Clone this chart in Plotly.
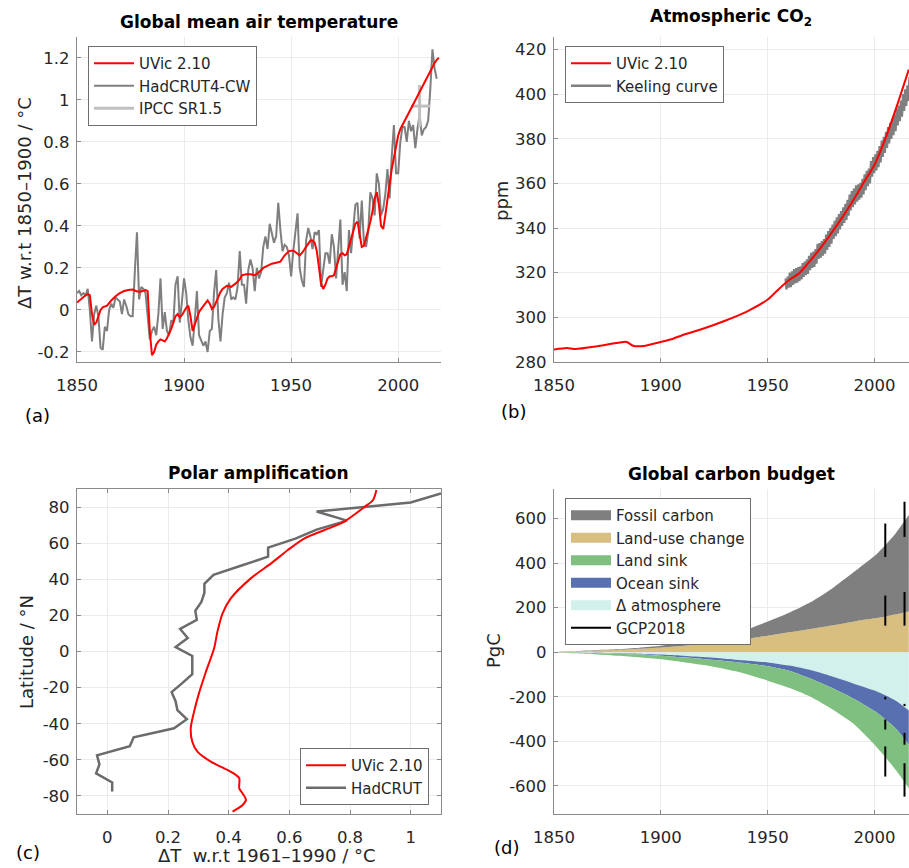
import plotly.graph_objects as go

# ---------------- (a) Global mean air temperature ----------------
had_years = list(range(1850, 2019))
had_temp = [
    0.08, 0.09, 0.07, 0.08, 0.07, 0.10, 0.00, -0.15, -0.02, 0.02,
    -0.03, -0.18, -0.19, -0.08, -0.10, 0.00, 0.03, 0.01, 0.06, 0.05,
    0.04, -0.02, 0.05, 0.02, -0.02, -0.03, -0.03, 0.18, 0.37, 0.05,
    0.11, 0.10, 0.08, -0.03, -0.14, -0.10, -0.08, -0.12, -0.02, 0.15,
    -0.09, -0.01, -0.10, -0.12, -0.05, -0.06, 0.12, 0.16, -0.06, 0.04,
    0.15, 0.08, -0.05, -0.13, -0.17, -0.05, 0.09, -0.12, -0.15, -0.17,
    -0.15, -0.20, -0.10, -0.09, 0.08, 0.19, -0.04, -0.15, -0.02, 0.06,
    0.08, 0.13, 0.05, 0.06, 0.05, 0.11, 0.28, 0.12, 0.12, 0.03,
    0.19, 0.24, 0.20, 0.09, 0.20, 0.15, 0.18, 0.30, 0.35, 0.29,
    0.41, 0.37, 0.32, 0.35, 0.51, 0.38, 0.28, 0.31, 0.30, 0.26,
    0.16, 0.28, 0.36, 0.46, 0.20, 0.14, 0.11, 0.33, 0.39, 0.35,
    0.29, 0.37, 0.36, 0.38, 0.11, 0.19, 0.27, 0.27, 0.22, 0.36,
    0.30, 0.15, 0.28, 0.43, 0.12, 0.18, 0.09, 0.38, 0.27, 0.39,
    0.50, 0.51, 0.34, 0.52, 0.32, 0.30, 0.37, 0.56, 0.53, 0.45,
    0.65, 0.60, 0.45, 0.48, 0.55, 0.67, 0.53, 0.73, 0.88, 0.65,
    0.65, 0.80, 0.87, 0.87, 0.80, 0.90, 0.85, 0.88, 0.77, 0.86,
    0.93, 0.83, 0.86, 0.87, 0.90, 1.05, 1.24, 1.15, 1.10,
]

uvic_t_years = [
    1850, 1852, 1854, 1855, 1856, 1857, 1858, 1859, 1860, 1861, 1862, 1864,
    1866, 1868, 1870, 1872, 1874, 1876, 1878, 1880, 1882, 1883, 1884, 1885,
    1886, 1887, 1888, 1889, 1890, 1891, 1892, 1893, 1894, 1895, 1896, 1897,
    1898, 1899, 1900, 1901, 1902, 1903, 1904, 1905, 1906, 1907, 1908, 1909,
    1910, 1911, 1912, 1913, 1914, 1915, 1916, 1917, 1918, 1919, 1920, 1922,
    1924, 1926, 1927, 1929, 1931, 1933, 1935, 1937, 1939, 1941, 1943, 1945,
    1947, 1949, 1951, 1953, 1954, 1955, 1957, 1959, 1960, 1961, 1962, 1963,
    1964, 1965, 1966, 1967, 1968, 1969, 1970, 1971, 1972, 1973, 1974, 1975,
    1976, 1977, 1978, 1979, 1980, 1981, 1982, 1983, 1984, 1985, 1986, 1987,
    1988, 1989, 1990, 1991, 1992, 1993, 1994, 1995, 1996, 1997, 1998, 1999,
    2000, 2001, 2002, 2003, 2004, 2005, 2006, 2007, 2008, 2009, 2010, 2011,
    2012, 2013, 2014, 2015, 2016, 2017, 2018, 2019,
]
uvic_t = [
    0.035, 0.055, 0.07, 0.075, 0.07, -0.02, -0.07, -0.06, -0.03, 0.0, 0.012, 0.02,
    0.045, 0.065, 0.08, 0.09, 0.095, 0.097, 0.088, 0.088, 0.095, 0.09, -0.1, -0.215,
    -0.2, -0.165, -0.15, -0.14, -0.145, -0.15, -0.135, -0.115, -0.09, -0.06, -0.03, -0.02,
    -0.035, -0.025, -0.005, 0.01, 0.02, -0.03, -0.1, -0.07, -0.03, -0.01, 0.005, 0.02,
    0.035, 0.045, 0.03, 0.005, 0.015, 0.04, 0.06, 0.085, 0.1, 0.11, 0.115, 0.11,
    0.125, 0.145, 0.165, 0.17, 0.17, 0.165, 0.18, 0.2, 0.21, 0.22, 0.225, 0.23,
    0.26, 0.28, 0.283, 0.27, 0.26, 0.27, 0.3, 0.33, 0.33, 0.32, 0.28, 0.2,
    0.125, 0.1, 0.12, 0.15, 0.16, 0.16, 0.165, 0.2, 0.23, 0.265, 0.27, 0.26,
    0.265, 0.3, 0.34, 0.38, 0.41, 0.42, 0.36, 0.3, 0.305, 0.34, 0.38, 0.42,
    0.47, 0.53, 0.56, 0.5, 0.4, 0.385, 0.45, 0.54, 0.6, 0.67, 0.73, 0.79,
    0.83, 0.86, 0.88, 0.9, 0.92, 0.94, 0.96, 0.98, 1.0, 1.02, 1.04, 1.06,
    1.08, 1.1, 1.12, 1.14, 1.16, 1.175, 1.19, 1.2,
]

# IPCC SR1.5 assessed warming: period span, central year, mean and likely range
sr15_period = [2006, 2015]
sr15_year = [2010]
sr15_mean = [0.97]
sr15_range = [0.87, 1.07]

# ---------------- (b) Atmospheric CO2 ----------------
uvic_co2_years = [1850, 1856, 1860, 1870, 1880, 1884, 1887, 1892, 1900, 1905, 1910,
                  1920, 1930, 1940, 1950, 1955, 1960, 1965, 1970, 1975, 1980, 1985,
                  1990, 1995, 2000, 2005, 2010, 2016]
uvic_co2 = [285.6, 286.3, 285.8, 287.0, 288.6, 289.0, 287.3, 287.2, 289.0, 290.2, 292.0,
            295.0, 298.5, 302.5, 308.0, 312.5, 316.7, 320.0, 325.5, 331.5, 338.0, 345.0,
            352.5, 360.5, 368.5, 380.0, 393.5, 411.0]

keeling_years = list(range(1958, 2019))
keeling_peak = [
    317.5, 318.3, 320.0, 320.6, 321.6, 322.1, 322.5, 322.9, 324.3, 325.0,
    326.0, 327.6, 328.9, 329.5, 330.6, 332.9, 333.3, 334.2, 335.1, 337.1,
    338.7, 340.1, 341.6, 343.3, 344.8, 346.3, 347.6, 349.3, 350.9, 352.6,
    355.0, 356.6, 357.7, 359.1, 359.6, 360.3, 362.1, 364.1, 365.7, 366.7,
    370.0, 371.8, 373.0, 374.6, 376.7, 379.2, 380.9, 383.1, 385.2, 387.1,
    389.0, 390.7, 393.3, 394.9, 397.1, 400.0, 402.2, 404.0, 407.6, 409.7,
    411.2,
]
keeling_trough = [
    312.5, 313.3, 313.5, 314.5, 315.2, 315.6, 316.2, 317.0, 318.1, 318.9,
    319.5, 321.1, 322.1, 322.6, 324.0, 326.2, 326.8, 327.6, 328.5, 330.2,
    331.6, 333.0, 335.1, 336.4, 337.6, 339.4, 341.0, 342.3, 343.6, 345.5,
    347.9, 349.4, 350.6, 351.8, 352.7, 353.6, 355.1, 357.0, 358.8, 360.0,
    363.0, 364.6, 365.8, 367.3, 369.4, 371.9, 373.7, 375.9, 377.9, 379.9,
    381.6, 383.4, 386.0, 387.9, 389.9, 392.5, 394.7, 397.0, 400.7, 403.3,
    405.4,
]

# ---------------- (c) Polar amplification ----------------
uvic_lat = [89.4, 83.9, 80.2, 71.5, 67.3, 62.7, 56.2, 48.8, 40.5, 29.4, 21.1, 11.0,
            1.8, -11.2, -23.2, -33.3, -42.5, -50.0, -55.5, -61.0, -65.6, -68.4,
            -70.2, -75.8, -78.6, -82.2, -85.0, -88.7]
uvic_dt = [0.887, 0.876, 0.849, 0.777, 0.716, 0.65, 0.595, 0.54, 0.473, 0.407, 0.38, 0.363,
           0.352, 0.325, 0.302, 0.286, 0.275, 0.28, 0.297, 0.341, 0.396, 0.424,
           0.435, 0.435, 0.446, 0.457, 0.446, 0.413]

had_lat = [87.5, 82.5, 77.5, 72.5, 67.5, 62.5, 57.5, 52.5, 47.5, 42.5, 37.5, 32.5,
           27.5, 22.5, 17.5, 12.5, 7.5, 2.5, -2.5, -7.5, -12.5, -17.5, -22.5, -27.5,
           -32.5, -37.5, -42.5, -47.5, -52.5, -57.5, -62.5, -67.5, -72.5, -77.5]
had_dt = [1.10, 1.0, 0.69, 0.79, 0.69, 0.62, 0.53, 0.53, 0.44, 0.35, 0.32, 0.32,
          0.31, 0.29, 0.295, 0.24, 0.265, 0.225, 0.28, 0.28, 0.28, 0.247, 0.212, 0.225,
          0.231, 0.262, 0.22, 0.087, 0.074, -0.034, -0.026, -0.037, 0.016, 0.016]

# ---------------- (d) Global carbon budget (cumulative PgC since 1850) ----------------
budget_years = [1850, 1860, 1870, 1880, 1890, 1900, 1910, 1920, 1930, 1940, 1950,
                1960, 1970, 1980, 1990, 2000, 2005, 2010, 2016]
land_use = [0, 4, 8, 10, 15, 21, 28, 37, 48, 60, 74, 89, 104, 120, 137, 152, 160, 170, 183]
fossil = [0, 0.5, 1.5, 3, 5, 8, 14, 20, 29, 41, 64, 88, 120, 165, 220, 280, 320, 365, 432]
d_atmosphere = [0, -1, -3, -5, -7, -11, -16, -22, -29, -37, -46, -60, -80, -108, -140,
                -172, -193, -218, -262]
ocean_sink = [0, -1, -2, -2, -4, -5, -7, -9, -11, -13, -17, -23, -38, -52, -68, -92,
              -108, -125, -153]
land_sink = [0, -3, -5, -9, -12, -16, -21, -27, -36, -48, -65, -77, -82, -95, -112,
             -151, -169, -187, -195]

# GCP2018 estimates (low / high) placed on the stacked budget
gcp_years = [2005, 2014]
gcp_low = {
    "fossil": [427, 517], "luc": [119, 119], "atm": [-212, -242],
    "ocean": [-347, -415], "land": [-558, -648],
}
gcp_high = {
    "fossil": [577, 675], "luc": [254, 270], "atm": [-200, -232],
    "ocean": [-302, -362], "land": [-423, -498],
}

# ---------------- styling ----------------
FONT = "DejaVu Sans"
TXT = "#262626"
AXC = "#8a8a8a"
GRID = "#ebebeb"
RED = "#ff0000"
GRAY = "#7f7f7f"
W, H = 909, 868


def fx(p):
    return p / W


def fy(p):
    return 1 - p / H


fig = go.Figure()

# (a) observations first, model line on top
fig.add_trace(go.Scatter(x=had_years, y=had_temp, mode="lines", name="HadCRUT4-CW",
                         line=dict(color=GRAY, width=2), xaxis="x", yaxis="y",
                         legend="legend", legendrank=2))
fig.add_trace(go.Scatter(
    x=[sr15_period[0], sr15_period[1], None, sr15_year[0], sr15_year[0]],
    y=[sr15_mean[0], sr15_mean[0], None, sr15_range[0], sr15_range[1]],
    mode="lines", name="IPCC SR1.5", line=dict(color="#c0c0c0", width=3),
    xaxis="x", yaxis="y", legend="legend", legendrank=3))
fig.add_trace(go.Scatter(x=uvic_t_years, y=uvic_t, mode="lines", name="UVic 2.10",
                         line=dict(color=RED, width=2), xaxis="x", yaxis="y",
                         legend="legend", legendrank=1))

# (b) Keeling curve drawn through seasonal maxima and minima
k_x, k_y = [], []
for yr, pk, tr in zip(keeling_years, keeling_peak, keeling_trough):
    k_x += [yr + 0.37, yr + 0.78]
    k_y += [pk, tr]
fig.add_trace(go.Scatter(x=k_x, y=k_y, mode="lines", name="Keeling curve",
                         line=dict(color=GRAY, width=2.4), xaxis="x2", yaxis="y2",
                         legend="legend2", legendrank=2))
fig.add_trace(go.Scatter(x=uvic_co2_years, y=uvic_co2, mode="lines", name="UVic 2.10",
                         line=dict(color=RED, width=2, shape="spline", smoothing=0.6),
                         xaxis="x2", yaxis="y2", legend="legend2", legendrank=1))

# (c)
fig.add_trace(go.Scatter(x=had_dt, y=had_lat, mode="lines", name="HadCRUT",
                         line=dict(color="#6b6b6b", width=2.5), xaxis="x3", yaxis="y3",
                         legend="legend3", legendrank=2))
fig.add_trace(go.Scatter(x=uvic_dt, y=uvic_lat, mode="lines", name="UVic 2.10",
                         line=dict(color=RED, width=2, shape="spline", smoothing=0.8),
                         xaxis="x3", yaxis="y3", legend="legend3", legendrank=1))

# (d) stacked budget
fills = {
    "Fossil carbon": "#7f7f7f",
    "Land-use change": "#d9bf7f",
    "Land sink": "#7fbf7f",
    "Ocean sink": "#5870b0",
    "\u0394 atmosphere": "#d2f1ec",
}
for name, vals, grp in [("Land-use change", land_use, "src"), ("Fossil carbon", fossil, "src"),
                        ("\u0394 atmosphere", d_atmosphere, "snk"), ("Ocean sink", ocean_sink, "snk"),
                        ("Land sink", land_sink, "snk")]:
    fig.add_trace(go.Scatter(x=budget_years, y=vals, mode="lines", stackgroup=grp,
                             line=dict(width=0, shape="spline", smoothing=0.6),
                             fillcolor=fills[name], name=name, showlegend=False,
                             xaxis="x4", yaxis="y4"))

g_x, g_y = [], []
for key in ["fossil", "luc", "atm", "ocean", "land"]:
    for i, yr in enumerate(gcp_years):
        g_x += [yr, yr, None]
        g_y += [gcp_low[key][i], gcp_high[key][i], None]

# legend swatches for the stacked areas
for rank, name in enumerate(["Fossil carbon", "Land-use change", "Land sink",
                             "Ocean sink", "\u0394 atmosphere"]):
    fig.add_trace(go.Scatter(x=[None], y=[None], mode="lines", name=name,
                             line=dict(color=fills[name], width=14),
                             xaxis="x4", yaxis="y4", legend="legend4", legendrank=rank + 1))
fig.add_trace(go.Scatter(x=g_x, y=g_y, mode="lines", name="GCP2018",
                         line=dict(color="black", width=2), xaxis="x4", yaxis="y4",
                         legend="legend4", legendrank=6))

# ---------------- axes ----------------
tickfont = dict(family=FONT, size=16.5, color=TXT)


def axis(domain, rng, tickvals, ticktext, anchor, standoff, mirror=False):
    return dict(domain=domain, range=rng, tickvals=tickvals, ticktext=ticktext,
                anchor=anchor, showline=True, linecolor=AXC, linewidth=1.2,
                showgrid=True, gridcolor=GRID, gridwidth=1, zeroline=False,
                ticks="inside", ticklen=4, tickcolor=AXC, tickfont=tickfont,
                mirror=mirror, automargin=False, ticklabelstandoff=standoff)


year_ticks = [1850, 1900, 1950, 2000]
year_text = ["1850", "1900", "1950", "2000"]
t_ticks = [-0.2, 0, 0.2, 0.4, 0.6, 0.8, 1.0, 1.2]
t_text = ["-0.2", "0", "0.2", "0.4", "0.6", "0.8", "1", "1.2"]
co2_ticks = [280, 300, 320, 340, 360, 380, 400, 420]
lat_ticks = [-80, -60, -40, -20, 0, 20, 40, 60, 80]
lat_text = ["-80", "-60", "-40", "-20", "0", "20", "40", "60", "80"]
dt_ticks = [0, 0.2, 0.4, 0.6, 0.8, 1.0]
dt_text = ["0", "0.2", "0.4", "0.6", "0.8", "1"]
pgc_ticks = [-600, -400, -200, 0, 200, 400, 600]
pgc_text = ["-600", "-400", "-200", "0", "200", "400", "600"]

dom_left = [fx(77), fx(441)]
dom_right = [fx(554), 1.0]
dom_top = [fy(362), fy(37)]
dom_bot = [fy(814), fy(489)]

legend_common = dict(bgcolor="white", bordercolor="#6e6e6e", borderwidth=1,
                     font=dict(family=FONT, size=15, color=TXT), itemwidth=40,
                     tracegroupgap=0, traceorder="normal",
                     xanchor="left", yanchor="top")

fig.update_layout(
    width=W, height=H, margin=dict(l=0, r=0, t=0, b=0, autoexpand=False),
    paper_bgcolor="white", plot_bgcolor="white",
    font=dict(family=FONT, color=TXT),
    xaxis=axis(dom_left, [1850, 2020], year_ticks, year_text, "y", 8),
    yaxis=axis(dom_top, [-0.2476, 1.2986], t_ticks, t_text, "x", 3),
    xaxis2=axis(dom_right, [1850, 2016.1], year_ticks, year_text, "y2", 8),
    yaxis2=axis(dom_top, [280, 425.6], co2_ticks, [str(v) for v in co2_ticks], "x2", 3),
    xaxis3=axis(dom_left, [-0.1, 1.1], dt_ticks, dt_text, "y3", 8, mirror="ticks"),
    yaxis3=axis(dom_bot, [-90, 90], lat_ticks, lat_text, "x3", 3, mirror="ticks"),
    xaxis4=axis(dom_right, [1850, 2016.1], year_ticks, year_text, "y4", 8),
    yaxis4=axis(dom_bot, [-726, 732], pgc_ticks, pgc_text, "x4", 3),
    legend=dict(legend_common, x=fx(88), y=fy(46)),
    legend2=dict(legend_common, x=fx(565), y=fy(46)),
    legend3=dict(legend_common, x=fx(429), y=fy(805), xanchor="right", yanchor="bottom"),
    legend4=dict(legend_common, x=fx(565), y=fy(498)),
)

# ---------------- titles and labels ----------------
notes = [
    (259, 22, "<b>Global mean air temperature</b>", 17, 0, "black"),
    (731, 17, "<b>Atmospheric CO<sub>2</sub></b>", 17, 0, "black"),
    (258, 473, "<b>Polar amplification</b>", 17, 0, "black"),
    (731, 474, "<b>Global carbon budget</b>", 17, 0, "black"),
    (24, 203, "\u0394T w.r.t 1850\u20131900 / \u00b0C", 18, -90, TXT),
    (502, 201, "ppm", 18, -90, TXT),
    (26, 652, "Latitude / \u00b0N", 18, -90, TXT),
    (493, 651, "PgC", 18, -90, TXT),
    (267, 855, "\u0394T \u00a0w.r.t 1961\u20131990 / \u00b0C", 18, 0, TXT),
    (37, 416, "(a)", 18, 0, "black"),
    (513, 411, "(b)", 18, 0, "black"),
    (28, 852, "(c)", 18, 0, "black"),
    (506, 847, "(d)", 18, 0, "black"),
]
for x, y, text, size, angle, color in notes:
    fig.add_annotation(x=fx(x), y=fy(y), xref="paper", yref="paper", text=text,
                       showarrow=False, textangle=angle, xanchor="center", yanchor="middle",
                       font=dict(family=FONT, size=size, color=color))

fig.write_html("out.html")
